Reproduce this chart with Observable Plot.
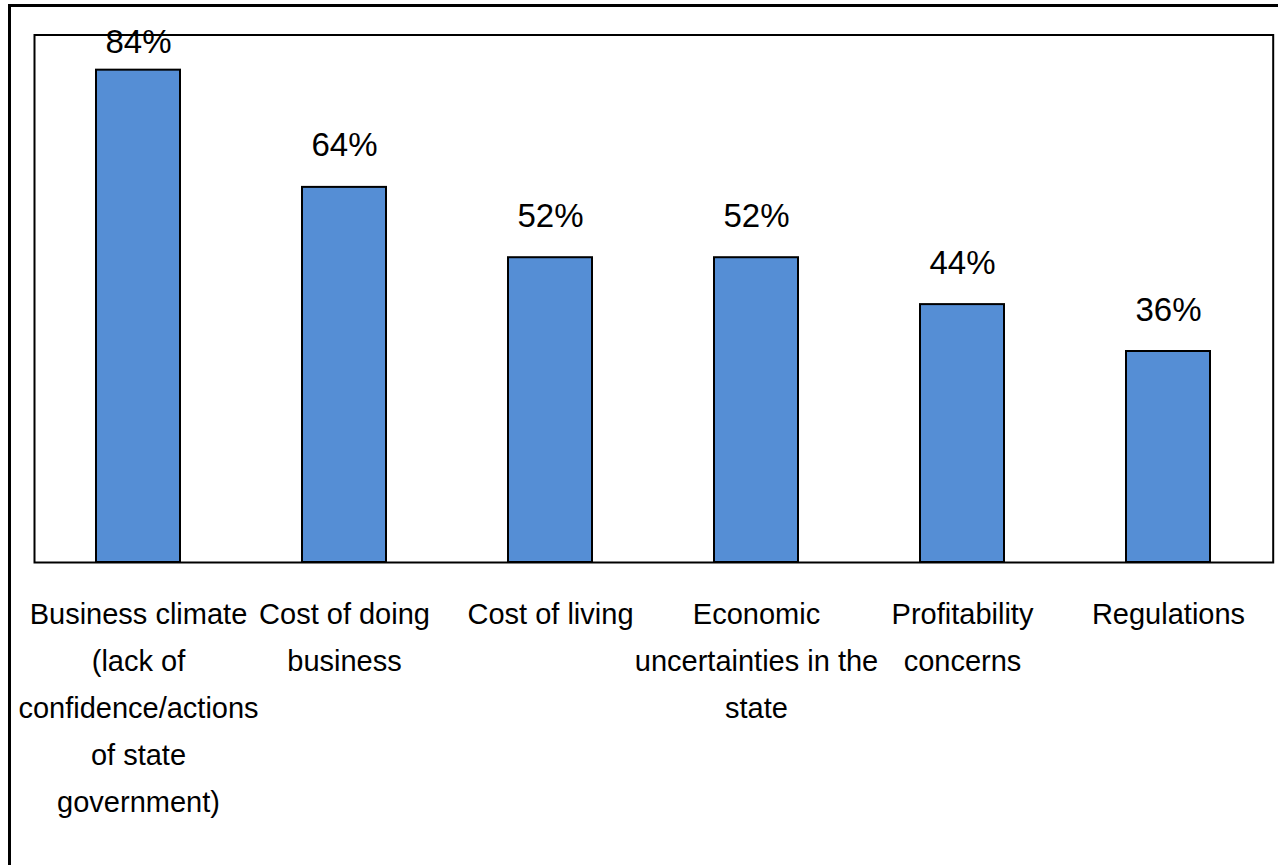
<!DOCTYPE html>
<html>
<head>
<meta charset="utf-8">
<script src="https://cdn.jsdelivr.net/npm/d3@7"></script>
<script src="https://cdn.jsdelivr.net/npm/@observablehq/plot@0.6"></script>
<style>
  html, body { margin: 0; padding: 0; background: #fff; }
  #wrap { position: relative; width: 1278px; height: 865px; overflow: hidden; }
  #outer { position: absolute; left: 8px; top: 4px; right: -10px; bottom: -10px;
           border-top: 3px solid #000; border-left: 3px solid #000; pointer-events: none; }
  svg { display: block; }
</style>
</head>
<body>
<div id="wrap"><div id="outer"></div></div>
<script>
const categories = [
  "Business climate (lack of confidence/actions of state government)",
  "Cost of doing business",
  "Cost of living",
  "Economic uncertainties in the state",
  "Profitability concerns",
  "Regulations"
];
const tickLabels = [
  "Business climate\n(lack of\nconfidence/actions\nof state\ngovernment)",
  "Cost of doing\nbusiness",
  "Cost of living",
  "Economic\nuncertainties in the\nstate",
  "Profitability\nconcerns",
  "Regulations"
];
const values = [84, 64, 52, 52, 44, 36];
const valueLabels = ["84%", "64%", "52%", "52%", "44%", "36%"];

const data = categories.map((c, i) => ({cat: c, tick: tickLabels[i], value: values[i], label: valueLabels[i]}));

const font = "'Liberation Sans', Arial, sans-serif";

const chart = Plot.plot({
  width: 1278,
  height: 865,
  marginTop: 34.5,
  marginBottom: 303,
  marginLeft: 34,
  marginRight: 5.3,
  style: {fontFamily: font, color: "#000", background: "transparent"},
  x: {domain: categories, paddingInner: 0.593, paddingOuter: 0.2965, axis: null},
  y: {domain: [0, 90], axis: null},
  marks: [
    Plot.barY(data, {x: "cat", y: "value", fill: "#558ED5", stroke: "#000", strokeWidth: 2}),
    Plot.frame({stroke: "#000", strokeWidth: 2}),
    Plot.text(data, {filter: d => d.value < 80, x: "cat", y: "value", text: "label", lineAnchor: "bottom", dy: -31, fontSize: 33, fill: "#000"}),
    Plot.text(data, {filter: d => d.value >= 80, x: "cat", y: "value", text: "label", lineAnchor: "bottom", dy: -17, fontSize: 33, fill: "#000"}),
    Plot.text(data, {x: "cat", text: "tick", frameAnchor: "bottom", lineAnchor: "top", dy: 28, fontSize: 29, lineHeight: 1.62, fill: "#000"})
  ]
});
document.getElementById("wrap").prepend(chart);
</script>
</body>
</html>
